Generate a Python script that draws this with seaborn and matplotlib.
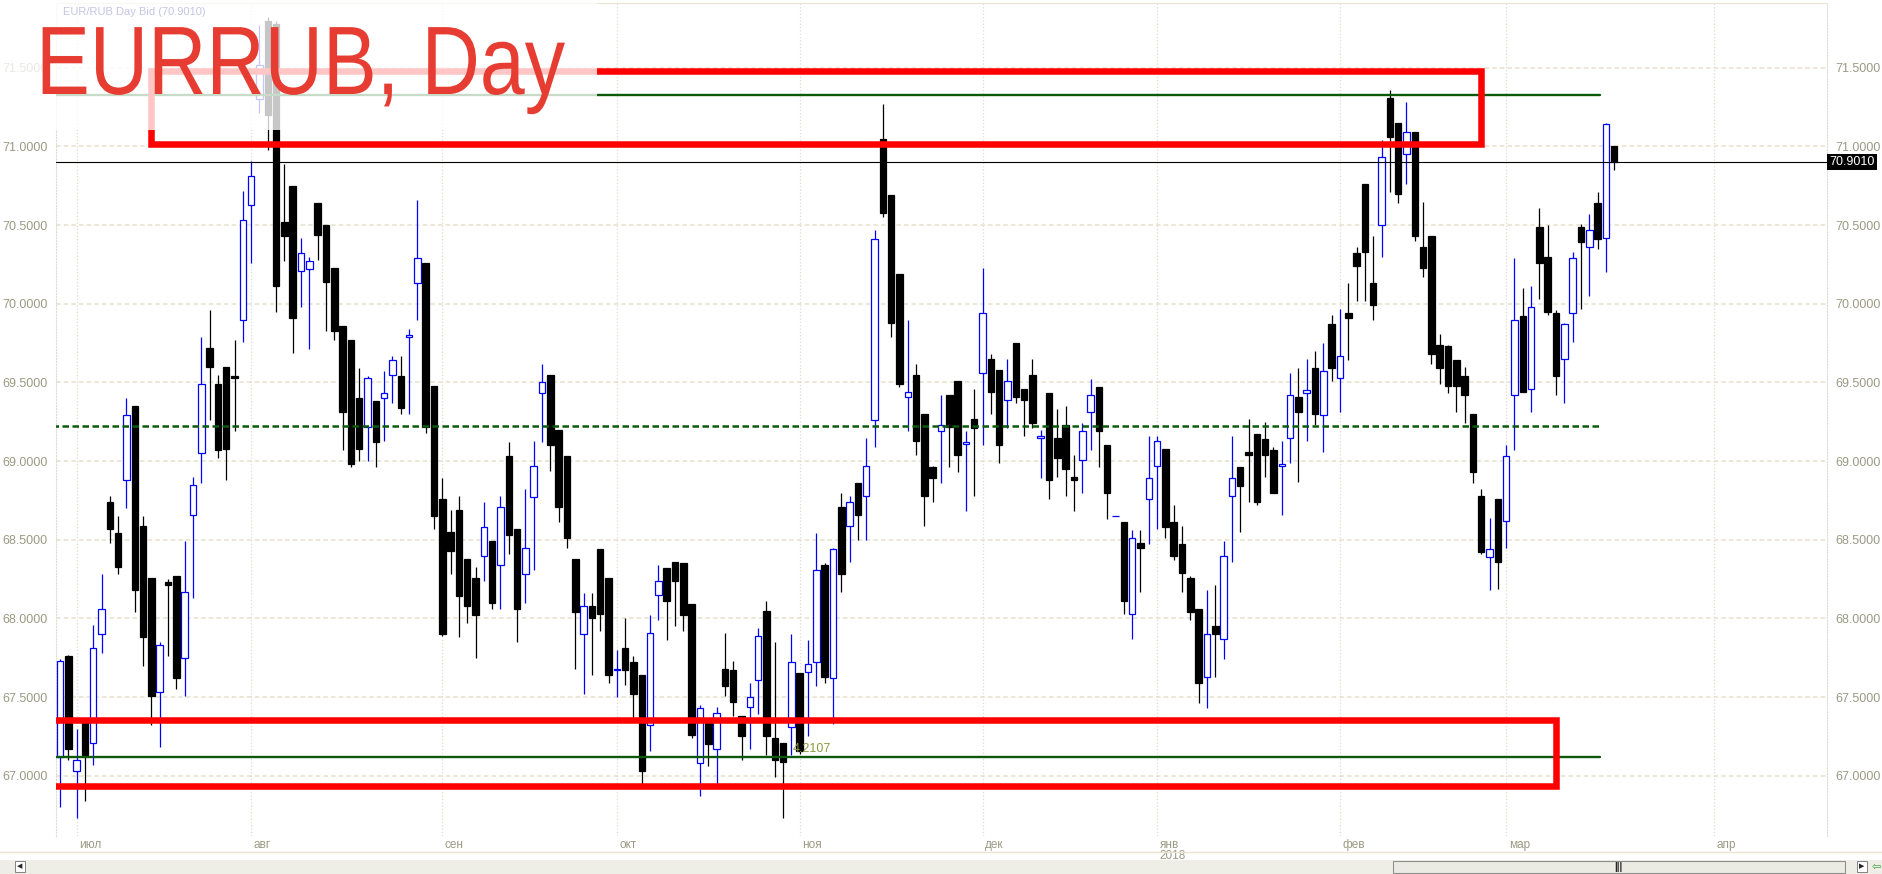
import datetime as dt
import numpy as np
import pandas as pd
import seaborn as sns
import matplotlib
import matplotlib.pyplot as plt
from matplotlib.patches import Rectangle
from matplotlib.transforms import Affine2D
import matplotlib.transforms as mtransforms
import matplotlib.patheffects as pe

matplotlib.use('Agg')

# EUR/RUB daily bars, 29.06.2017 - 20.03.2018 (weekdays, 01.01.2018 missing)
start_date = '2017-06-29'
end_date = '2018-03-20'
missing_days = ['2018-01-01']

opens = [67.12, 67.76, 67.03, 67.36, 67.21, 67.90, 68.74, 68.54, 68.88, 69.35,
         68.59, 68.26, 67.53, 68.23, 68.27, 67.75, 68.66, 69.05, 69.72, 69.49,
         69.60, 69.54, 69.90, 70.63, 71.30, 71.80, 71.78, 70.52, 70.75, 70.21,
         70.22, 70.64, 70.50, 70.23, 69.86, 69.77, 69.40, 69.22, 69.38, 69.40,
         69.55, 69.54, 69.79, 70.13, 70.26, 69.48, 68.76, 68.55, 68.69, 68.38,
         68.26, 68.40, 68.49, 68.34, 69.03, 68.57, 68.28, 68.77, 69.43, 69.55,
         69.20, 69.03, 68.38, 67.90, 68.08, 68.44, 68.26, 67.67, 67.81, 67.72,
         67.64, 67.32, 68.15, 68.32, 68.36, 68.35, 68.09, 67.08, 67.35, 67.17,
         67.68, 67.67, 67.38, 67.44, 67.61, 68.05, 67.24, 67.21, 67.31, 67.65,
         67.66, 67.72, 68.34, 67.62, 68.71, 68.59, 68.86, 68.78, 69.26, 71.05,
         70.69, 70.19, 69.41, 69.55, 69.30, 68.96, 69.19, 69.42, 69.51, 69.11,
         69.27, 69.56, 69.65, 69.58, 69.39, 69.75, 69.46, 69.55, 69.15, 69.43,
         69.15, 69.23, 68.90, 69.01, 69.31, 69.47, 69.10, 68.65, 68.61, 68.03,
         68.48, 68.76, 68.97, 69.08, 68.61, 68.47, 68.26, 68.06, 67.63, 67.95,
         67.87, 68.78, 68.96, 69.06, 69.17, 69.14, 69.07, 68.97, 69.15, 69.41,
         69.43, 69.59, 69.29, 69.87, 69.53, 69.94, 70.32, 70.76, 70.13, 70.50,
         71.31, 71.15, 70.95, 71.09, 70.36, 70.43, 69.74, 69.73, 69.64, 69.54,
         69.30, 68.78, 68.39, 68.76, 68.62, 69.42, 69.92, 69.46, 70.49, 70.30,
         69.94, 69.65, 69.94, 70.49, 70.36, 70.64, 70.42, 71.00]
highs = [67.74, 67.77, 67.30, 67.37, 67.96, 68.28, 68.78, 68.65, 69.40, 69.35,
         68.65, 68.26, 67.85, 68.25, 68.27, 68.49, 68.90, 69.79, 69.96, 69.55,
         69.60, 69.77, 70.72, 70.91, 71.77, 71.82, 71.80, 70.89, 70.75, 70.42,
         70.30, 70.64, 70.50, 70.23, 69.86, 69.77, 69.59, 69.54, 69.38, 69.57,
         69.67, 69.67, 69.84, 70.66, 70.26, 69.48, 68.89, 68.69, 68.78, 68.38,
         68.33, 68.74, 68.49, 68.78, 69.12, 68.57, 68.82, 69.13, 69.62, 69.55,
         69.20, 69.03, 68.38, 68.16, 68.16, 68.44, 68.26, 67.80, 68.00, 67.76,
         67.64, 68.02, 68.34, 68.32, 68.36, 68.35, 68.09, 67.45, 67.36, 67.44,
         67.91, 67.73, 67.38, 67.59, 67.94, 68.11, 67.85, 67.21, 67.90, 67.65,
         67.86, 68.54, 68.35, 68.45, 68.80, 68.78, 68.86, 69.15, 70.47, 71.27,
         70.69, 70.19, 69.90, 69.62, 69.30, 68.97, 69.42, 69.42, 69.51, 69.19,
         69.46, 70.23, 69.68, 69.58, 69.65, 69.75, 69.46, 69.65, 69.20, 69.43,
         69.33, 69.35, 69.04, 69.24, 69.52, 69.47, 69.10, 68.65, 68.61, 68.56,
         68.56, 69.16, 69.16, 69.08, 68.72, 68.59, 68.27, 68.06, 68.18, 68.21,
         68.49, 69.16, 68.96, 69.27, 69.17, 69.25, 69.09, 69.13, 69.56, 69.59,
         69.65, 69.70, 69.75, 69.93, 69.97, 70.13, 70.36, 70.76, 70.43, 71.04,
         71.36, 71.15, 71.28, 71.09, 70.65, 70.43, 69.81, 69.74, 69.64, 69.60,
         69.30, 68.82, 68.64, 68.76, 69.10, 70.29, 70.10, 70.11, 70.61, 70.50,
         69.96, 69.88, 70.33, 70.51, 70.57, 70.71, 71.15, 71.00]
lows = [66.80, 67.10, 66.73, 66.84, 67.07, 67.78, 68.48, 68.28, 68.70, 68.04,
        67.70, 67.32, 67.18, 67.76, 67.55, 67.51, 68.13, 68.86, 69.26, 69.02,
        68.88, 69.19, 69.76, 70.26, 71.21, 70.98, 69.95, 70.27, 69.69, 69.98,
        69.71, 70.28, 69.83, 69.77, 69.07, 68.96, 69.00, 69.00, 68.96, 69.13,
        69.37, 69.30, 69.30, 69.90, 69.18, 68.57, 67.89, 68.28, 67.88, 67.97,
        67.75, 68.24, 68.06, 68.06, 68.41, 67.85, 68.10, 68.31, 69.12, 68.94,
        68.61, 68.45, 67.68, 67.52, 67.64, 67.92, 67.59, 67.50, 67.58, 67.36,
        66.95, 67.16, 67.99, 67.86, 67.95, 67.92, 67.24, 66.87, 67.06, 66.95,
        67.51, 67.38, 67.10, 67.17, 67.39, 67.13, 66.99, 66.73, 67.13, 67.14,
        67.25, 67.57, 67.59, 67.33, 68.17, 68.36, 68.50, 68.50, 69.09, 70.55,
        69.79, 69.47, 69.19, 69.04, 68.59, 68.74, 68.86, 68.96, 68.93, 68.68,
        68.78, 69.10, 69.30, 68.99, 69.21, 69.37, 69.16, 69.21, 68.89, 68.76,
        68.90, 68.78, 68.68, 68.80, 69.07, 68.96, 68.63, 68.65, 68.03, 67.87,
        68.17, 68.47, 68.57, 68.51, 68.37, 68.17, 67.99, 67.46, 67.43, 67.63,
        67.74, 68.36, 68.55, 68.74, 68.72, 68.90, 68.80, 68.66, 68.99, 68.87,
        69.13, 69.23, 69.06, 69.51, 69.31, 69.64, 70.02, 70.02, 69.90, 70.30,
        70.71, 70.64, 70.76, 70.40, 70.17, 69.62, 69.49, 69.43, 69.31, 69.24,
        68.86, 68.41, 68.18, 68.19, 68.45, 69.07, 69.44, 69.31, 70.03, 69.93,
        69.42, 69.37, 69.76, 69.97, 70.05, 70.35, 70.20, 70.85]
closes = [67.73, 67.17, 67.10, 67.13, 67.81, 68.06, 68.57, 68.33, 69.29, 68.18,
          67.88, 67.51, 67.83, 68.21, 67.62, 68.17, 68.85, 69.49, 69.60, 69.07,
          69.08, 69.53, 70.53, 70.81, 71.52, 71.20, 70.11, 70.43, 69.91, 70.32,
          70.27, 70.44, 70.14, 69.83, 69.31, 68.98, 69.08, 69.53, 69.12, 69.43,
          69.64, 69.34, 69.80, 70.29, 69.22, 68.65, 67.90, 68.43, 68.14, 68.08,
          68.02, 68.58, 68.10, 68.71, 68.53, 68.06, 68.45, 68.97, 69.50, 69.10,
          68.71, 68.51, 68.04, 68.08, 68.00, 68.03, 67.64, 67.68, 67.67, 67.52,
          67.03, 67.91, 68.24, 68.11, 68.24, 68.02, 67.26, 67.43, 67.20, 67.40,
          67.57, 67.47, 67.25, 67.50, 67.89, 67.25, 67.10, 67.09, 67.72, 67.16,
          67.71, 68.31, 67.63, 68.44, 68.28, 68.74, 68.66, 68.97, 70.41, 70.58,
          69.88, 69.49, 69.44, 69.13, 68.78, 68.89, 69.23, 69.22, 69.04, 69.12,
          69.21, 69.94, 69.44, 69.10, 69.51, 69.41, 69.39, 69.24, 69.16, 68.88,
          69.02, 68.95, 68.88, 69.19, 69.42, 69.19, 68.80, 68.65, 68.11, 68.51,
          68.45, 68.89, 69.13, 68.58, 68.40, 68.29, 68.04, 67.59, 67.90, 67.90,
          68.40, 68.89, 68.84, 69.04, 68.74, 69.04, 68.80, 68.98, 69.42, 69.31,
          69.45, 69.30, 69.57, 69.59, 69.67, 69.91, 70.24, 70.33, 69.99, 70.93,
          71.06, 70.70, 71.09, 70.43, 70.23, 69.68, 69.59, 69.48, 69.48, 69.42,
          68.93, 68.42, 68.44, 68.36, 69.03, 69.90, 69.44, 69.98, 70.26, 69.95,
          69.54, 69.87, 70.29, 70.39, 70.47, 70.41, 71.14, 70.90]

month_names = ['июл', 'авг', 'сен', 'окт', 'ноя', 'дек', 'янв', 'фев', 'мар', 'апр']
future_month = '2018-04-01'

last_price = 70.901
resistance_zone = (71.016, 71.482)
support_zone = (66.934, 67.357)
upper_line = 71.33
lower_line = 67.12
mid_line = 69.225
zone_dates = ('2017-07-14', '2018-02-26', '2018-03-09')
line_end_date = '2018-03-16'

dates = pd.bdate_range(start_date, end_date)
dates = dates[~dates.isin(pd.to_datetime(missing_days))]
df = pd.DataFrame({'date': dates, 'open': opens, 'high': highs,
                   'low': lows, 'close': closes})
df['x'] = np.arange(len(df))
df['up'] = df['close'] >= df['open']


def date_pos(d):
    d = pd.Timestamp(d)
    if d <= df['date'].iloc[-1]:
        return int(df.index[df['date'] >= d][0])
    # empty future area is laid out by calendar days
    return df['x'].iloc[-1] + (d - df['date'].iloc[-1]).days


class HStretch(pe.AbstractPathEffect):
    """Squeeze glyphs horizontally around a fixed x (narrow title font)."""

    def __init__(self, sx, x0):
        super().__init__()
        self.sx = sx
        self.x0 = x0

    def draw_path(self, renderer, gc, tpath, affine, rgbFace=None):
        aff = affine + Affine2D().translate(-self.x0, 0).scale(self.sx, 1).translate(self.x0, 0)
        renderer.draw_path(gc, tpath, aff, rgbFace)


sns.set_style("white")
plt.rcParams['font.family'] = ['Liberation Sans', 'DejaVu Sans']

fig = plt.figure(figsize=(18.83, 8.74), dpi=100)
ax = fig.add_axes([56 / 1883, 38 / 874, 1771 / 1883, 833 / 874])
ax.set_xlim(-0.48, 212.6)
ax.set_ylim(66.617, 71.912)

# grid
for lvl in np.arange(67.0, 71.51, 0.5):
    ax.axhline(lvl, color='#e6e2cc', lw=1.1, ls=(0, (3, 2)), zorder=0)

month_pos = []
for m in range(7, 16):
    y, mm = 2017 + (m - 1) // 12, (m - 1) % 12 + 1
    month_pos.append(date_pos(dt.date(y, mm, 1)))
month_pos.append(date_pos(future_month))
for p in month_pos:
    ax.axvline(p, color='#dcdcd2', lw=0.9, ls=':', zorder=0)

# candles
up = df[df['up']]
dn = df[~df['up']]
ax.vlines(up['x'], up['low'], up['high'], color='#0000ff', lw=0.9, zorder=2)
ax.vlines(dn['x'], dn['low'], dn['high'], color='black', lw=0.9, zorder=2)
ax.bar(up['x'], (up['close'] - up['open']).clip(lower=0.004), bottom=up['open'],
       width=0.78, color='white', edgecolor='#0000ff', linewidth=0.9, zorder=3)
ax.bar(dn['x'], (dn['open'] - dn['close']).clip(lower=0.01), bottom=dn['close'],
       width=0.78, color='black', edgecolor='black', linewidth=0.9, zorder=3)

# levels drawn on the chart
x_end = date_pos(line_end_date) + 0.3
ax.plot([-1, x_end], [upper_line, upper_line], color='#0b5a0b', lw=1.7, zorder=4)
ax.plot([-1, x_end], [lower_line, lower_line], color='#0b5a0b', lw=1.7, zorder=4)
ax.plot([-1, x_end], [mid_line, mid_line], color='#0b5a0b', lw=1.8,
        dashes=(2.6, 1.4), zorder=4)
ax.axhline(last_price, color='black', lw=0.8, zorder=4)

x0, x1, x2 = (date_pos(d) for d in zone_dates)
ax.add_patch(Rectangle((x0, resistance_zone[0]), x1 - x0,
                       resistance_zone[1] - resistance_zone[0],
                       fill=False, ec='#ff0000', lw=4.7, zorder=5))
ax.add_patch(Rectangle((-3, support_zone[0]), x2 + 3,
                       support_zone[1] - support_zone[0],
                       fill=False, ec='#ff0000', lw=4.7, zorder=5))
ax.text(88.2, lower_line + 0.012, '4.2107', color='#8c9a3c', fontsize=9,
        ha='left', va='bottom', zorder=6)

# axes / ticks
ax.set_yticks(np.arange(67.0, 71.51, 0.5))
ax.set_yticklabels([f'{v:.4f}' for v in np.arange(67.0, 71.51, 0.5)])
ax.tick_params(axis='y', left=False, right=False, labelleft=True,
               labelright=True, labelsize=9, labelcolor='#9b9a84', pad=2.5)
ax.set_xticks([])
for side in ['left', 'right']:
    ax.spines[side].set_color('#dcdcd2')
    ax.spines[side].set_linestyle(':')
ax.spines['top'].set_color('#e8e4d0')
ax.spines['bottom'].set_visible(False)

trans = mtransforms.blended_transform_factory(ax.transData, ax.transAxes)
for p, name in zip(month_pos, month_names):
    ax.text(p + 0.3, -0.0145, name, transform=trans, ha='left',
            va='baseline', fontsize=8.5, color='#9b9a84')
ax.text(month_pos[6] + 0.3, -0.028, '2018', transform=trans, ha='left',
        va='baseline', fontsize=8.5, color='#9b9a84')

rtrans = mtransforms.blended_transform_factory(ax.transAxes, ax.transData)
ax.text(1.0012, last_price, f'{last_price:.4f}', transform=rtrans, ha='left',
        va='center', color='white', fontsize=9, zorder=7,
        bbox=dict(boxstyle='square,pad=0.18', fc='black', ec='none'))

# title block with faded backdrop
fig.patches.append(Rectangle((0, 1 - 130 / 874), 597 / 1883, 130 / 874,
                             transform=fig.transFigure, fc='white',
                             ec='none', alpha=0.78, zorder=5))
fig.text(36 / 1883, 1 - 94 / 874, 'EURRUB, Day', color='#e63c32',
         fontsize=70, family=['Liberation Sans'], ha='left', va='baseline',
         zorder=6, path_effects=[HStretch(0.83, 36)])
fig.text(63 / 1883, 1 - 12 / 874, 'EUR/RUB Day Bid (70.9010)', color='#c4c4e4',
         fontsize=8, ha='left', va='center', zorder=6)

# bottom line and scrollbar
fig.add_artist(plt.Line2D([0, 1], [1 - 852 / 874] * 2, color='#e8e4d0', lw=1))
fig.patches.append(Rectangle((0, 0), 1, 14 / 874, transform=fig.transFigure,
                             fc='#efeee6', ec='none', zorder=1))
fig.patches.append(Rectangle((1393 / 1883, 1.5 / 874), 452 / 1883, 12 / 874,
                             transform=fig.transFigure, fc='#ecebe3',
                             ec='#8f8f8f', lw=0.8, zorder=2))
fig.text(1618 / 1883, 7.5 / 874, '|||', fontsize=7, weight='bold',
         ha='center', va='center', zorder=3)
fig.patches.append(Rectangle((1857 / 1883, 2 / 874), 10 / 1883, 11 / 874,
                             transform=fig.transFigure, fc='white',
                             ec='#707070', lw=0.6, zorder=2))
fig.text(1862 / 1883, 7.5 / 874, '▶', fontsize=5, ha='center', va='center',
         family=['DejaVu Sans'], zorder=3)
fig.text(1876 / 1883, 7.5 / 874, '⇦', fontsize=8, color='#3aa040', ha='center',
         va='center', family=['DejaVu Sans'], zorder=3)
fig.patches.append(Rectangle((15 / 1883, 2 / 874), 10 / 1883, 11 / 874,
                             transform=fig.transFigure, fc='white',
                             ec='#707070', lw=0.6, zorder=2))
fig.text(20 / 1883, 7.5 / 874, '◀', fontsize=5, ha='center', va='center',
         family=['DejaVu Sans'], zorder=3)

fig.savefig('out.png', dpi=100)
